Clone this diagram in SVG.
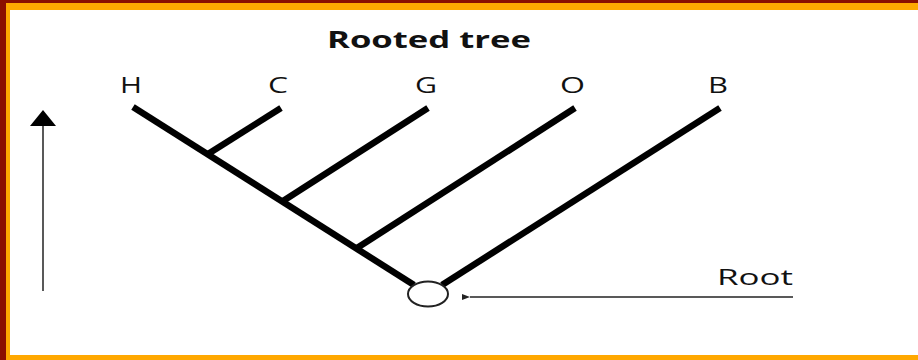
<svg xmlns="http://www.w3.org/2000/svg" width="918" height="360" viewBox="0 0 918 360">
  <defs>
    <style>
      .edge { stroke: #000; stroke-width: 6.5; stroke-linecap: butt; fill: none; }
      .lbl { font-family: "Open Sans", "Liberation Sans", sans-serif; font-size: 22px; fill: #111; }
      .title { font-family: "Open Sans", "Liberation Sans", sans-serif; font-size: 24px; font-weight: bold; fill: #111; }
      .thin { stroke: #222; stroke-width: 1.5; fill: none; }
    </style>
    <marker id="headSmall" viewBox="0 0 8 6" refX="0" refY="3" markerWidth="8" markerHeight="6" markerUnits="userSpaceOnUse" orient="auto">
      <path d="M0,3 L8,0 L8,6 Z" fill="#222"/>
    </marker>
  </defs>

  <!-- frame -->
  <rect x="0" y="0" width="918" height="360" fill="#8b0e00"/>
  <rect x="6" y="3" width="912" height="357" fill="#ffa800"/>
  <rect x="10" y="10" width="908" height="345" fill="#ffffff"/>

  <text class="title" x="327" y="48" textLength="204" lengthAdjust="spacingAndGlyphs">Rooted tree</text>

  <!-- time axis -->
  <g id="axis">
    <line x1="43" y1="291" x2="43" y2="126" class="thin" stroke-width="2"/>
    <path d="M30,126 L43,110 L56,126 Z" fill="#000"/>
  </g>

  <!-- branches -->
  <g id="edges">
    <line class="edge" x1="133" y1="107" x2="414" y2="285"/>
    <line class="edge" x1="208" y1="154" x2="281" y2="108"/>
    <line class="edge" x1="283" y1="201" x2="428" y2="108"/>
    <line class="edge" x1="357" y1="248" x2="575" y2="108"/>
    <line class="edge" x1="442" y1="285" x2="720" y2="108"/>
    <line class="thin" x1="793" y1="297" x2="470" y2="297" marker-end="url(#headSmall)" stroke-width="1.2"/>
  </g>

  <g id="leaf-H"><text class="lbl" x="120" y="93" textLength="22" lengthAdjust="spacingAndGlyphs">H</text></g>
  <g id="leaf-C"><text class="lbl" x="268" y="93" textLength="20" lengthAdjust="spacingAndGlyphs">C</text></g>
  <g id="leaf-G"><text class="lbl" x="415" y="93" textLength="22" lengthAdjust="spacingAndGlyphs">G</text></g>
  <g id="leaf-O"><text class="lbl" x="560" y="93" textLength="25" lengthAdjust="spacingAndGlyphs">O</text></g>
  <g id="leaf-B"><text class="lbl" x="708" y="93" textLength="20" lengthAdjust="spacingAndGlyphs">B</text></g>

  <g id="root">
    <ellipse cx="428" cy="294" rx="20" ry="12.5" fill="#fff" stroke="#222" stroke-width="2"/>
  </g>
  <g id="root-label">
    <text class="lbl" x="717" y="285" font-size="24" textLength="76" lengthAdjust="spacingAndGlyphs">Root</text>
  </g>
</svg>
